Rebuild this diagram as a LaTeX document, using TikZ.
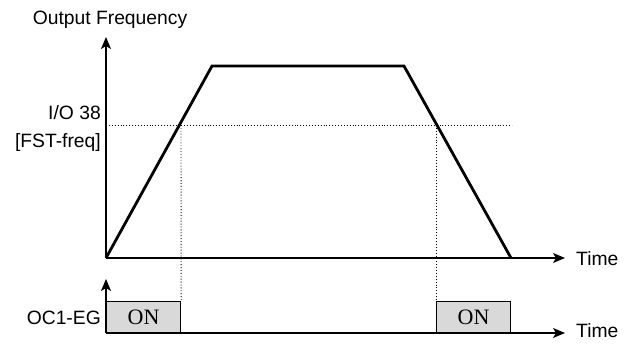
\documentclass[tikz,border=0pt]{standalone}
\usepackage{fontspec}
\setmainfont{Liberation Sans}
\newfontfamily\onfont{Liberation Serif}
\usetikzlibrary{arrows.meta,positioning}
\definecolor{ongray}{RGB}{217,217,217}

\begin{document}
\begin{tikzpicture}[x=1pt, y=-1pt,
    lbl/.style={font=\fontsize{19.3}{21}\selectfont, inner sep=0pt},
    axis/.style={-{Stealth[length=12pt, width=10pt, inset=3pt]}, line width=1.3pt},
    ramp/.style={line width=2.8pt, line join=miter},
    guide/.style={dotted, line width=0.9pt},
    onbox/.style={rectangle, draw, line width=1.2pt, fill=ongray,
        minimum width=74pt, minimum height=31pt, inner sep=0pt,
        anchor=south west, font=\onfont\fontsize{22}{24}\selectfont}
]
    \useasboundingbox (0,0) rectangle (632,343);
    % frequency profile
    \coordinate (o) at (106,258);
    \coordinate (ytop) at (106,37);
    \coordinate (xend) at (565,258);
    \coordinate (up) at (212,66);
    \coordinate (down) at (404,66);
    \coordinate (stop) at (511,258);
    \coordinate (c1) at (181,125);
    \coordinate (c2) at (436,125);
    \coordinate (fst) at (106,125);
    \coordinate (fste) at (512,125);
    % output signal
    \coordinate (o2) at (106,333);
    \coordinate (y2top) at (106,279);
    \coordinate (x2end) at (565,333);
    \node[onbox] (on1) at (o2) {ON};
    \node[onbox] (on2) at (436,333) {ON};
    \draw[guide] (fst) -- (fste);
    \draw[guide] (c1) -- (on1.north east);
    \draw[guide] (c2) -- (on2.north west);
    \draw[ramp] (o) -- (up) -- (down) -- (stop);
    \draw[axis] (o) -- (ytop);
    \draw[axis] (o) -- (xend);
    \draw[axis] (o2) -- (y2top);
    \draw[axis] (o2) -- (x2end);
    % labels
    \node[lbl] (freq) at (110,20) {Output Frequency};
    \node[lbl, anchor=east] (io) at (101,113) {I/O 38};
    \node[lbl, anchor=east] (fstlbl) at (101,143) {[FST-freq]};
    \node[lbl, anchor=east] (oc) at (101,318) {OC1-EG};
    \node[lbl, anchor=west] (t1) at (576,258.5) {Time};
    \node[lbl, anchor=west] (t2) at (576,331) {Time};
\end{tikzpicture}
\end{document}
